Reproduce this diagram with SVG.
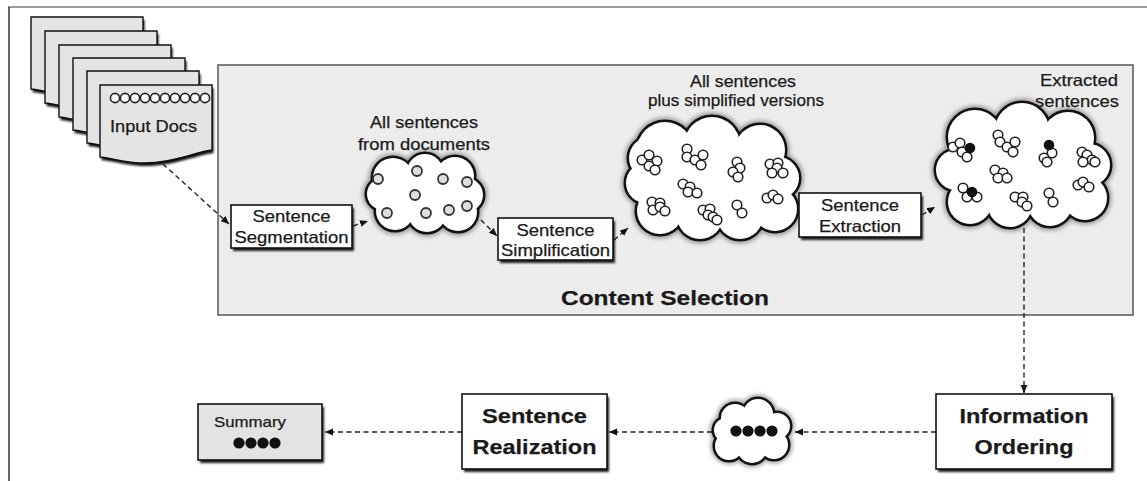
<svg xmlns="http://www.w3.org/2000/svg" xmlns:xlink="http://www.w3.org/1999/xlink" width="1147" height="481" viewBox="0 0 1147 481">
  <style>
    .txt { font-family: "Liberation Sans", Arial, sans-serif; fill: #1a1a1a; stroke: #1a1a1a; stroke-width: 0.25; }
    .reg { font-size: 16.5px; }
    .bold { font-size: 21px; font-weight: bold; }
    .mid { text-anchor: middle; }
    .box { fill: #ffffff; stroke: #111; stroke-width: 1.6; }
    .boxshadow { fill: #1a1a1a; filter: url(#soft1); }
    .page { fill: #e4e4e4; stroke: #111; stroke-width: 1.4; }
    .pageshadow { fill: #111; filter: url(#soft1); }
    .cloud-halo { fill: #000; stroke: #000; stroke-width: 9; opacity: 0.35; filter: url(#soft2); }
    .cloud-edge { fill: #111; stroke: #111; stroke-width: 5; }
    .cloud-fill { fill: #ffffff; }
    .dot { fill: #dedede; stroke: #333; stroke-width: 1.8; }
    .bub { fill: #ffffff; stroke: #222; stroke-width: 1.6; }
    .bub-on { fill: #111; stroke: #111; stroke-width: 1.6; }
    .flow { fill: none; stroke: #222; stroke-width: 1.4; stroke-dasharray: 5 3.5; marker-end: url(#arrow); }
  </style>
  <defs>
    <filter id="soft1" x="-10%" y="-10%" width="120%" height="130%">
      <feGaussianBlur stdDeviation="0.8"/>
    </filter>
    <filter id="soft2" x="-15%" y="-15%" width="130%" height="130%">
      <feGaussianBlur stdDeviation="2.2"/>
    </filter>
    <marker id="arrow" markerUnits="userSpaceOnUse" markerWidth="9" markerHeight="8" refX="8" refY="3.5" orient="auto">
      <path d="M0,0 L8,3.5 L0,7 Z" fill="#111"/>
    </marker>
    <!-- document sheet with a wavy lower edge -->
    <path id="sheet" d="M0,0 H112 V65 C95,67 70,79 40,78 C25,77 10,73 0,72 Z"/>
    <!-- cloud outlines built as unions of circles -->
    <g id="cloud1">
      <ellipse cx="425" cy="193" rx="45" ry="28"/>
      <circle cx="393" cy="178" r="20"/>
      <circle cx="425" cy="172" r="18"/>
      <circle cx="455" cy="176" r="19"/>
      <circle cx="466" cy="195" r="17"/>
      <circle cx="458" cy="212" r="19"/>
      <circle cx="427" cy="213" r="19"/>
      <circle cx="395" cy="211" r="19"/>
      <circle cx="383" cy="194" r="16"/>
    </g>
    <g id="cloud2">
      <ellipse cx="712" cy="180" rx="75" ry="45"/>
      <circle cx="665" cy="150" r="28"/>
      <circle cx="712" cy="145" r="28"/>
      <circle cx="760" cy="150" r="25"/>
      <circle cx="778" cy="178" r="21"/>
      <circle cx="775" cy="209" r="22"/>
      <circle cx="740" cy="216" r="23"/>
      <circle cx="700" cy="216" r="23"/>
      <circle cx="660" cy="211" r="23"/>
      <circle cx="646" cy="183" r="20"/>
      <circle cx="650" cy="158" r="21"/>
    </g>
    <g id="cloud3">
      <ellipse cx="1023" cy="167" rx="75" ry="45"/>
      <circle cx="975" cy="137" r="27"/>
      <circle cx="1022" cy="130" r="27"/>
      <circle cx="1068" cy="138" r="26"/>
      <circle cx="1089" cy="165" r="21"/>
      <circle cx="1085" cy="198" r="22"/>
      <circle cx="1050" cy="204" r="22"/>
      <circle cx="1010" cy="205" r="22"/>
      <circle cx="970" cy="202" r="22"/>
      <circle cx="956" cy="170" r="20"/>
    </g>
    <g id="cloud4">
      <ellipse cx="752" cy="432" rx="32" ry="20"/>
      <circle cx="735" cy="418" r="14"/>
      <circle cx="758" cy="414" r="15"/>
      <circle cx="777" cy="426" r="13"/>
      <circle cx="774" cy="445" r="14"/>
      <circle cx="752" cy="448" r="15"/>
      <circle cx="729" cy="446" r="14"/>
      <circle cx="726" cy="430" r="12"/>
    </g>
  </defs>

  <!-- page frame -->
  <path d="M8,7 H1147" stroke="#7a7a7a" stroke-width="1.5" fill="none"/>
  <path d="M9,7 V481" stroke="#333" stroke-width="1.5" fill="none"/>

  <!-- content selection panel -->
  <g id="content-selection">
    <rect x="218" y="65" width="915" height="250" fill="#ececec" stroke="#555" stroke-width="1.5"/>
    <text class="txt bold mid" x="665" y="305" textLength="208" lengthAdjust="spacingAndGlyphs">Content Selection</text>
  </g>

  <!-- stack of input documents -->
  <g id="input-docs">
    <use href="#sheet" class="pageshadow" transform="translate(32.5,20)"/>
    <use href="#sheet" class="page" transform="translate(31,17)"/>
    <use href="#sheet" class="pageshadow" transform="translate(46.5,34)"/>
    <use href="#sheet" class="page" transform="translate(45,31)"/>
    <use href="#sheet" class="pageshadow" transform="translate(60.5,48)"/>
    <use href="#sheet" class="page" transform="translate(59,45)"/>
    <use href="#sheet" class="pageshadow" transform="translate(74.5,61)"/>
    <use href="#sheet" class="page" transform="translate(73,58)"/>
    <use href="#sheet" class="pageshadow" transform="translate(88.5,74)"/>
    <use href="#sheet" class="page" transform="translate(87,71)"/>
    <use href="#sheet" class="pageshadow" transform="translate(101.5,88)"/>
    <use href="#sheet" class="page" transform="translate(100,85)"/>
    <g class="bub">
      <circle cx="115" cy="98" r="4.6"/>
      <circle cx="125" cy="98" r="4.6"/>
      <circle cx="135" cy="98" r="4.6"/>
      <circle cx="145" cy="98" r="4.6"/>
      <circle cx="155" cy="98" r="4.6"/>
      <circle cx="165" cy="98" r="4.6"/>
      <circle cx="175" cy="98" r="4.6"/>
      <circle cx="185" cy="98" r="4.6"/>
      <circle cx="195" cy="98" r="4.6"/>
      <circle cx="205" cy="98" r="4.6"/>
    </g>
    <text class="txt reg" x="110" y="132" textLength="87" lengthAdjust="spacingAndGlyphs">Input Docs</text>
  </g>

  <!-- connectors -->
  <g id="connectors">
    <path class="flow" d="M163,164 L229,224"/>
    <path class="flow" d="M353,226 L368,221"/>
    <path class="flow" d="M481,220 L497,236"/>
    <path class="flow" d="M614,240 L628,228"/>
    <path class="flow" d="M791,211 L799,211"/>
    <path class="flow" d="M922,215 L935,207"/>
    <path class="flow" d="M1024,228 L1024,393"/>
    <path class="flow" d="M936,432 L795,432"/>
    <path class="flow" d="M712,432 L609,432"/>
    <path class="flow" d="M462,432 L325,432"/>
  </g>

  <!-- sentence segmentation -->
  <g id="sentence-segmentation">
    <rect class="boxshadow" x="233" y="208" width="121" height="43"/>
    <rect class="box" x="231" y="205" width="121" height="43"/>
    <text class="txt reg mid" x="291.5" y="222" textLength="78" lengthAdjust="spacingAndGlyphs">Sentence</text>
    <text class="txt reg mid" x="291.5" y="243" textLength="114" lengthAdjust="spacingAndGlyphs">Segmentation</text>
  </g>

  <!-- all sentences cloud -->
  <g id="all-sentences">
    <text class="txt reg mid" x="424" y="128" textLength="108" lengthAdjust="spacingAndGlyphs">All sentences</text>
    <text class="txt reg mid" x="424" y="150" textLength="132" lengthAdjust="spacingAndGlyphs">from documents</text>
    <use href="#cloud1" class="cloud-halo"/>
    <use href="#cloud1" class="cloud-edge"/>
    <use href="#cloud1" class="cloud-fill"/>
    <g class="dot">
      <circle cx="378" cy="179" r="5"/>
      <circle cx="417" cy="171" r="5"/>
      <circle cx="443" cy="179" r="5"/>
      <circle cx="467" cy="182" r="5"/>
      <circle cx="415" cy="195" r="5"/>
      <circle cx="387" cy="213" r="5"/>
      <circle cx="426" cy="213" r="5"/>
      <circle cx="449" cy="210" r="5"/>
      <circle cx="467" cy="206" r="5"/>
    </g>
  </g>

  <!-- sentence simplification -->
  <g id="sentence-simplification">
    <rect class="boxshadow" x="500" y="221" width="115" height="42"/>
    <rect class="box" x="498" y="218" width="115" height="42"/>
    <text class="txt reg mid" x="555.5" y="236" textLength="78" lengthAdjust="spacingAndGlyphs">Sentence</text>
    <text class="txt reg mid" x="555.5" y="256" textLength="109" lengthAdjust="spacingAndGlyphs">Simplification</text>
  </g>

  <!-- all sentences plus simplified versions cloud -->
  <g id="all-plus-simplified">
    <text class="txt reg mid" x="743" y="87" textLength="106" lengthAdjust="spacingAndGlyphs">All sentences</text>
    <text class="txt reg mid" x="736" y="106" textLength="176" lengthAdjust="spacingAndGlyphs">plus simplified versions</text>
    <use href="#cloud2" class="cloud-halo"/>
    <use href="#cloud2" class="cloud-edge"/>
    <use href="#cloud2" class="cloud-fill"/>
    <g class="bub">
      <circle cx="642" cy="160" r="4.8"/><circle cx="649" cy="155" r="4.8"/><circle cx="657" cy="161" r="4.8"/><circle cx="649" cy="166" r="4.8"/><circle cx="655" cy="170" r="4.8"/>
      <circle cx="687" cy="149" r="4.8"/><circle cx="687" cy="157" r="4.8"/><circle cx="695" cy="160" r="4.8"/><circle cx="703" cy="155" r="4.8"/><circle cx="701" cy="165" r="4.8"/>
      <circle cx="737" cy="162" r="4.8"/><circle cx="740" cy="168" r="4.8"/><circle cx="733" cy="172" r="4.8"/><circle cx="738" cy="177" r="4.8"/>
      <circle cx="770" cy="164" r="4.8"/><circle cx="778" cy="163" r="4.8"/><circle cx="777" cy="168" r="4.8"/><circle cx="772" cy="173" r="4.8"/><circle cx="783" cy="173" r="4.8"/>
      <circle cx="683" cy="184" r="4.8"/><circle cx="690" cy="187" r="4.8"/><circle cx="688" cy="192" r="4.8"/><circle cx="697" cy="193" r="4.8"/>
      <circle cx="652" cy="202" r="4.8"/><circle cx="660" cy="203" r="4.8"/><circle cx="653" cy="210" r="4.8"/><circle cx="660" cy="207" r="4.8"/><circle cx="665" cy="211" r="4.8"/>
      <circle cx="703" cy="210" r="4.8"/><circle cx="710" cy="209" r="4.8"/><circle cx="708" cy="215" r="4.8"/><circle cx="713" cy="217" r="4.8"/><circle cx="717" cy="220" r="4.8"/>
      <circle cx="737" cy="205" r="4.8"/><circle cx="742" cy="213" r="4.8"/>
      <circle cx="767" cy="198" r="4.8"/><circle cx="773" cy="195" r="4.8"/><circle cx="778" cy="199" r="4.8"/>
    </g>
  </g>

  <!-- sentence extraction -->
  <g id="sentence-extraction">
    <rect class="boxshadow" x="801" y="196" width="122" height="44"/>
    <rect class="box" x="799" y="193" width="122" height="44"/>
    <text class="txt reg mid" x="860" y="211" textLength="78" lengthAdjust="spacingAndGlyphs">Sentence</text>
    <text class="txt reg mid" x="860" y="232" textLength="82" lengthAdjust="spacingAndGlyphs">Extraction</text>
  </g>

  <!-- extracted sentences cloud -->
  <g id="extracted-sentences">
    <use href="#cloud3" class="cloud-halo"/>
    <use href="#cloud3" class="cloud-edge"/>
    <use href="#cloud3" class="cloud-fill"/>
    <text class="txt reg" x="1118" y="86" text-anchor="end" textLength="78" lengthAdjust="spacingAndGlyphs">Extracted</text>
    <text class="txt reg" x="1119" y="107" text-anchor="end" textLength="84" lengthAdjust="spacingAndGlyphs">sentences</text>
    <g class="bub">
      <circle cx="953" cy="147" r="4.8"/><circle cx="960" cy="143" r="4.8"/><circle cx="962" cy="152" r="4.8"/><circle cx="967" cy="157" r="4.8"/>
      <circle cx="998" cy="135" r="4.8"/><circle cx="1000" cy="142" r="4.8"/><circle cx="1007" cy="147" r="4.8"/><circle cx="1015" cy="142" r="4.8"/><circle cx="1013" cy="152" r="4.8"/>
      <circle cx="1052" cy="153" r="4.8"/><circle cx="1044" cy="158" r="4.8"/><circle cx="1047" cy="162" r="4.8"/>
      <circle cx="1082" cy="152" r="4.8"/><circle cx="1087" cy="155" r="4.8"/><circle cx="1092" cy="160" r="4.8"/><circle cx="1083" cy="162" r="4.8"/><circle cx="1095" cy="162" r="4.8"/>
      <circle cx="995" cy="170" r="4.8"/><circle cx="1003" cy="173" r="4.8"/><circle cx="998" cy="178" r="4.8"/><circle cx="1007" cy="178" r="4.8"/>
      <circle cx="963" cy="188" r="4.8"/><circle cx="967" cy="197" r="4.8"/><circle cx="977" cy="197" r="4.8"/>
      <circle cx="1015" cy="197" r="4.8"/><circle cx="1023" cy="197" r="4.8"/><circle cx="1022" cy="202" r="4.8"/><circle cx="1027" cy="206" r="4.8"/>
      <circle cx="1049" cy="193" r="4.8"/><circle cx="1053" cy="202" r="4.8"/>
      <circle cx="1078" cy="185" r="4.8"/><circle cx="1083" cy="182" r="4.8"/><circle cx="1089" cy="187" r="4.8"/>
    </g>
    <g class="bub-on">
      <circle cx="970" cy="148" r="4.5"/>
      <circle cx="1049" cy="145" r="4.5"/>
      <circle cx="972" cy="192" r="4.5"/>
    </g>
  </g>

  <!-- information ordering -->
  <g id="information-ordering">
    <rect class="boxshadow" x="938" y="397" width="176" height="75"/>
    <rect class="box" x="936" y="394" width="176" height="75"/>
    <text class="txt bold mid" x="1024" y="423" textLength="129" lengthAdjust="spacingAndGlyphs">Information</text>
    <text class="txt bold mid" x="1024" y="454" textLength="99" lengthAdjust="spacingAndGlyphs">Ordering</text>
  </g>

  <!-- ordered sentences cloud -->
  <g id="ordered-sentences">
    <use href="#cloud4" class="cloud-halo"/>
    <use href="#cloud4" class="cloud-edge"/>
    <use href="#cloud4" class="cloud-fill"/>
    <g fill="#111">
      <circle cx="736" cy="431" r="5.6"/>
      <circle cx="748" cy="431" r="5.6"/>
      <circle cx="760" cy="431" r="5.6"/>
      <circle cx="772" cy="431" r="5.6"/>
    </g>
  </g>

  <!-- sentence realization -->
  <g id="sentence-realization">
    <rect class="boxshadow" x="464" y="397" width="145" height="75"/>
    <rect class="box" x="462" y="394" width="145" height="75"/>
    <text class="txt bold mid" x="534.5" y="423" textLength="105" lengthAdjust="spacingAndGlyphs">Sentence</text>
    <text class="txt bold mid" x="534.5" y="454" textLength="124" lengthAdjust="spacingAndGlyphs">Realization</text>
  </g>

  <!-- summary -->
  <g id="summary">
    <rect class="boxshadow" x="200" y="407" width="124" height="56"/>
    <rect x="198" y="404" width="124" height="56" fill="#e3e3e3" stroke="#111" stroke-width="1.6"/>
    <text class="txt mid" x="250" y="427" font-size="15" textLength="72" lengthAdjust="spacingAndGlyphs">Summary</text>
    <g fill="#111">
      <circle cx="239" cy="443" r="5.6"/>
      <circle cx="251" cy="443" r="5.6"/>
      <circle cx="263" cy="443" r="5.6"/>
      <circle cx="275" cy="443" r="5.6"/>
    </g>
  </g>
</svg>
